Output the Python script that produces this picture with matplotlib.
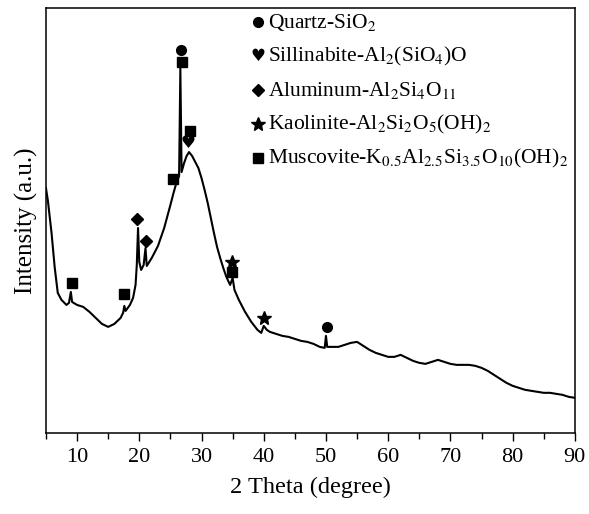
import numpy as np
import matplotlib
matplotlib.use("Agg")
import matplotlib.pyplot as plt

plt.rcParams['font.family'] = ['Liberation Serif', 'DejaVu Serif']
plt.rcParams['mathtext.fontset'] = 'stix'

# XRD trace (2 theta, intensity a.u.)
two_theta = [5.0, 5.3, 5.9, 6.4, 6.9, 7.5, 8.3, 8.7, 9.0, 9.2, 10.0, 11.0, 12.0, 13.0,
             14.0, 15.0, 16.0, 17.0, 17.4, 17.6, 17.8, 18.5, 19.0, 19.4, 19.6, 19.8,
             20.0, 20.3, 20.7, 21.0, 21.2, 22.0, 23.0, 24.0, 25.0, 25.5, 26.0, 26.4,
             26.6, 26.8, 27.2, 27.6, 28.0, 28.5, 29.0, 29.5, 30.0, 30.5, 31.0, 31.5,
             32.0, 32.5, 33.0, 33.5, 34.0, 34.6, 35.0, 35.3, 36.0, 37.0, 38.0, 39.0,
             39.6, 40.0, 40.5, 41.0, 42.0, 43.0, 44.0, 45.0, 46.0, 47.0, 48.0, 49.0,
             49.8, 50.0, 50.2, 51.0, 52.0, 53.0, 54.0, 55.0, 56.0, 57.0, 58.0, 59.0,
             60.0, 61.0, 62.0, 63.0, 64.0, 65.0, 66.0, 67.0, 68.0, 69.0, 70.0, 71.0,
             72.0, 73.0, 74.0, 75.0, 76.0, 77.0, 78.0, 79.0, 80.0, 81.0, 82.0, 83.0,
             84.0, 85.0, 86.0, 87.0, 88.0, 89.0, 90.0]
intensity = [245, 233, 200, 166, 140, 133, 128, 130, 141, 131, 128, 126, 121, 115,
             109, 106, 109, 115, 120, 127, 122, 128, 135, 148, 168, 205,
             171, 163, 168, 185, 167, 175, 187, 205, 228, 240, 251, 257,
             365, 261, 270, 277, 281, 277, 271, 265, 255, 243, 230, 215,
             200, 186, 175, 165, 156, 148, 155, 143, 133, 121, 111, 103,
             100, 107, 103, 101, 99, 97, 96, 94, 92, 91, 89, 86,
             85, 97, 86, 86, 86, 88, 90, 91, 87, 83, 80, 78,
             76, 76, 78, 75, 72, 70, 69, 71, 73, 71, 69, 68,
             68, 68, 67, 65, 62, 58, 54, 50, 47, 45, 43, 42,
             41, 40, 40, 39, 38, 36, 35]

# phase markers
quartz_x = [26.7, 50.1]
quartz_y = [383, 106]
sill_x = [27.8]
sill_y = [290]
alum_x = [19.6, 21.1]
alum_y = [214, 192]
kaol_x = [34.9, 40.0]
kaol_y = [171, 115]
musc_x = [9.2, 17.5, 25.4, 26.8, 28.1, 34.9]
musc_y = [150, 139, 254, 371, 302, 161]

legend_labels = ['Quartz-SiO$_2$',
                 'Sillinabite-Al$_2$(SiO$_4$)O',
                 'Aluminum-Al$_2$Si$_4$O$_{11}$',
                 'Kaolinite-Al$_2$Si$_2$O$_5$(OH)$_2$',
                 'Muscovite-K$_{0.5}$Al$_{2.5}$Si$_{3.5}$O$_{10}$(OH)$_2$']

fig = plt.figure(figsize=(5.89, 5.14), dpi=100)
ax = fig.add_axes([0.078, 0.158, 0.898, 0.826])

ax.plot(two_theta, intensity, color='black', lw=1.5)

ax.plot(quartz_x, quartz_y, 'o', color='black', ms=7)
for x, y in zip(sill_x, sill_y):
    ax.text(x, y, '\u2665', family='DejaVu Sans', fontsize=12, ha='center', va='center')
ax.plot(alum_x, alum_y, 'D', color='black', ms=6.5)
ax.plot(kaol_x, kaol_y, '*', color='black', ms=10)
ax.plot(musc_x, musc_y, 's', color='black', ms=7)

# legend drawn by hand, axes fraction coords
lx = 0.40
ty = [0.967, 0.887, 0.807, 0.727, 0.647]
ax.plot(lx, ty[0], 'o', color='black', ms=7, transform=ax.transAxes, clip_on=False)
ax.text(lx, ty[1], '\u2665', family='DejaVu Sans', fontsize=12, ha='center', va='center',
        transform=ax.transAxes)
ax.plot(lx, ty[2], 'D', color='black', ms=6.5, transform=ax.transAxes)
ax.plot(lx, ty[3], '*', color='black', ms=10, transform=ax.transAxes)
ax.plot(lx, ty[4], 's', color='black', ms=7, transform=ax.transAxes)
for y, lab in zip(ty, legend_labels):
    ax.text(lx + 0.02, y, lab, fontsize=15.5, ha='left', va='center', transform=ax.transAxes)

ax.set_xlim(5, 90)
ax.set_ylim(0, 425)
ax.set_xticks(range(10, 91, 10))
ax.set_xticks(range(5, 91, 5), minor=True)
ax.set_yticks([])
ax.tick_params(axis='x', which='major', direction='out', length=6, width=1,
               labelsize=16, pad=5)
ax.tick_params(axis='x', which='minor', direction='out', length=4, width=1)
for s in ax.spines.values():
    s.set_linewidth(1.1)

ax.set_xlabel('2 Theta (degree)', fontsize=17.5, labelpad=7)
ax.set_ylabel('Intensity (a.u.)', fontsize=18, labelpad=6)

plt.savefig('out.png', dpi=100)
